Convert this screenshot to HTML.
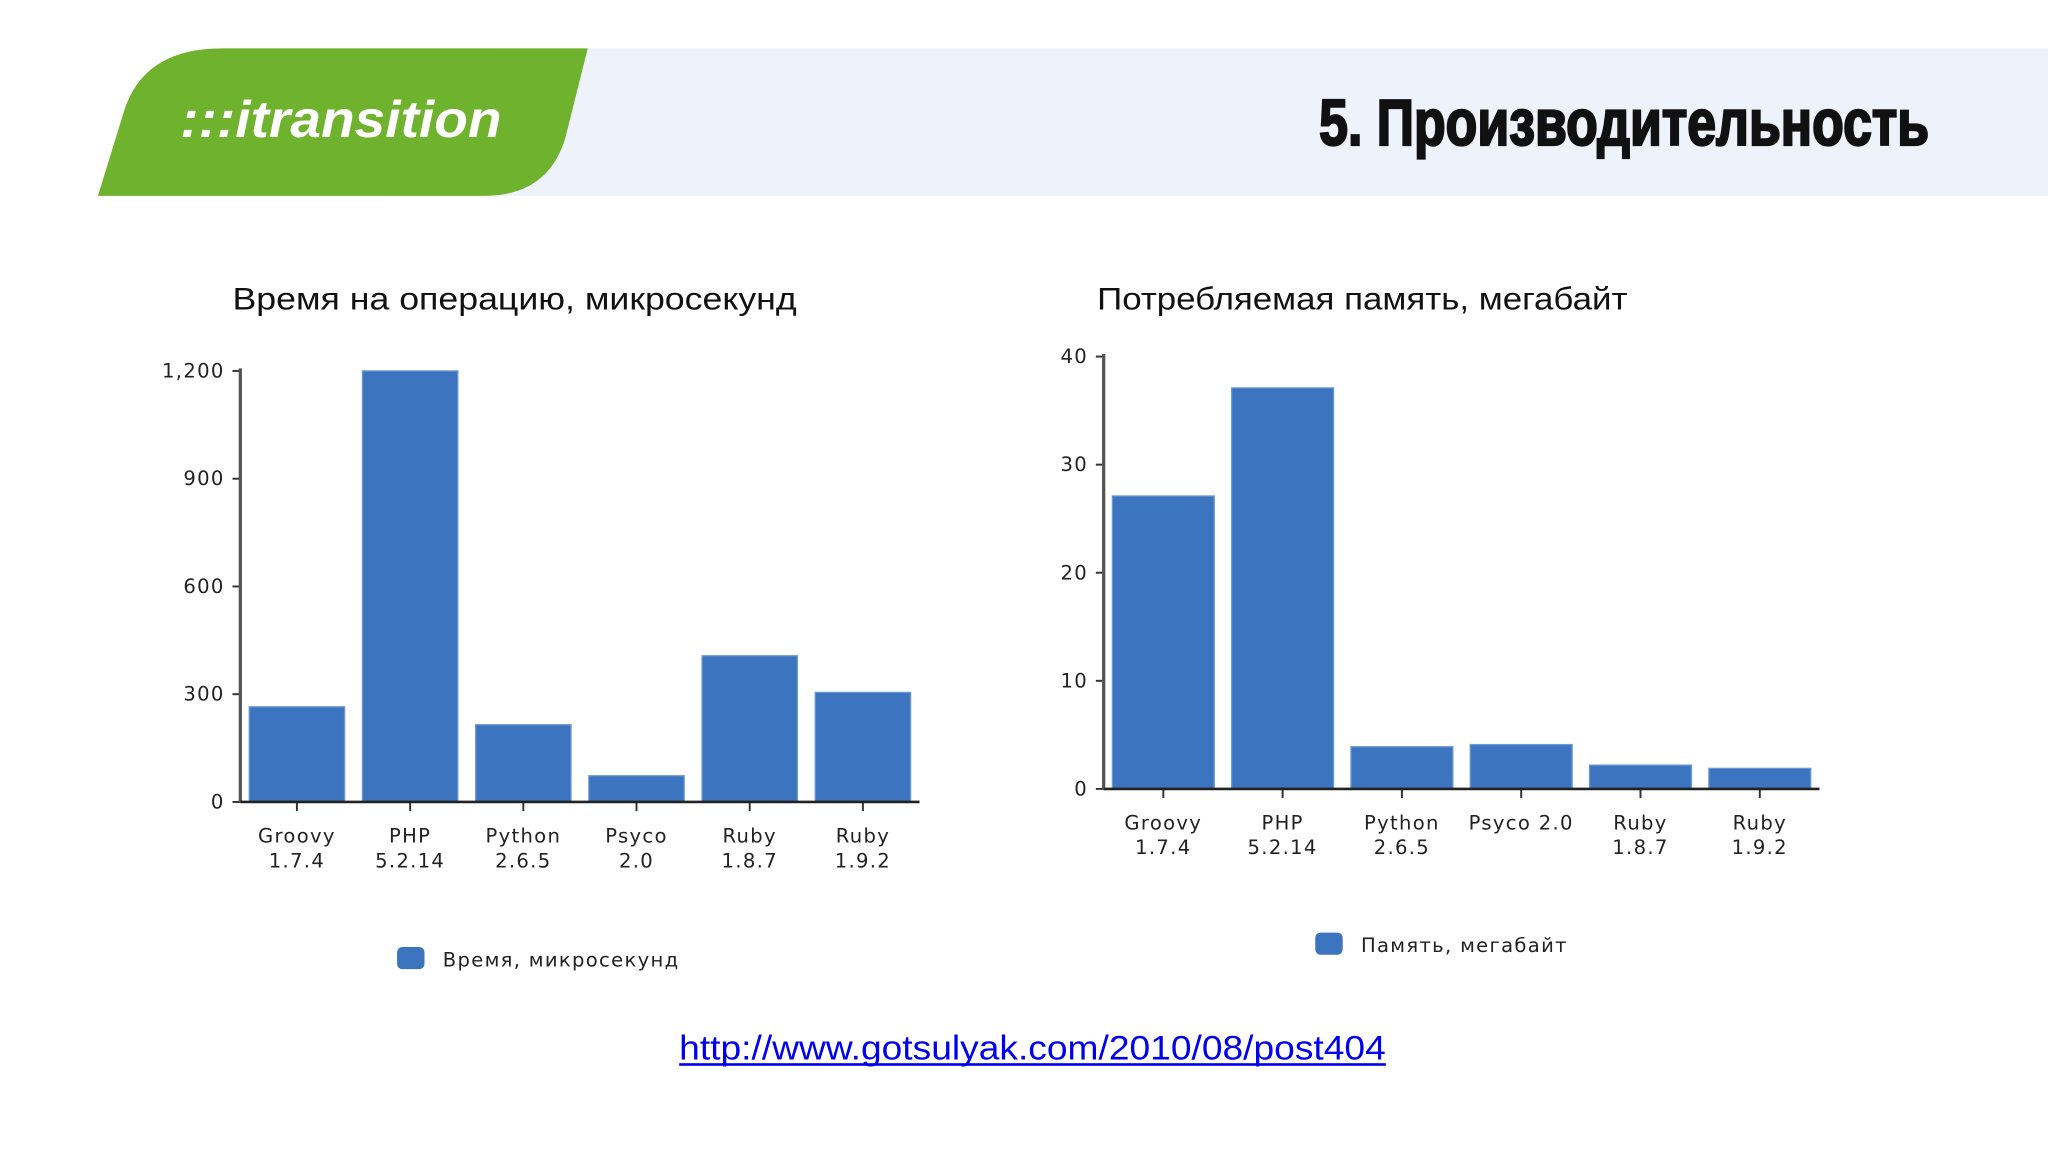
<!DOCTYPE html>
<html><head><meta charset="utf-8"><style>
html,body{margin:0;padding:0;background:#fff;}
svg{display:block;}
</style></head><body>
<svg id="s" width="2048" height="1152" viewBox="0 0 1568 882" xmlns="http://www.w3.org/2000/svg" font-family="'DejaVu Sans', sans-serif">
<rect x="0" y="0" width="1568" height="882" fill="#fff"/>
<rect x="380" y="37" width="1188" height="113" fill="#eef3fb"/>
<path d="M75 150 L95 85 Q110 37 170 37 L450 37 L433 105 Q420 150 370 150 Z" fill="#6fb22e"/>
<text x="138" y="105" font-family="'Liberation Sans',sans-serif" font-style="italic" font-weight="bold" font-size="40" fill="#fff" textLength="246" lengthAdjust="spacingAndGlyphs">:::itransition</text>
<text x="1010" y="111" font-family="'Liberation Sans Narrow','Liberation Sans',sans-serif" font-weight="bold" font-size="50" fill="#111" stroke="#111" stroke-width="1.8" textLength="467" lengthAdjust="spacingAndGlyphs">5. Производительность</text>
<text x="178" y="237" font-family="'Liberation Sans',sans-serif" font-size="24" fill="#111" textLength="432" lengthAdjust="spacingAndGlyphs">Время на операцию, микросекунд</text>
<text x="840" y="237" font-family="'Liberation Sans',sans-serif" font-size="24" fill="#111" textLength="406" lengthAdjust="spacingAndGlyphs">Потребляемая память, мегабайт</text>
<g id="c1"></g><g id="c2"></g>
<text x="520" y="811" font-family="'Liberation Sans',sans-serif" font-size="26" fill="#0000ee" textLength="541" lengthAdjust="spacingAndGlyphs">http://www.gotsulyak.com/2010/08/post404</text>
<rect x="520" y="814" width="541" height="2" fill="#0000ee"/>
</svg>
<script>
const categories1=["Groovy|1.7.4","PHP|5.2.14","Python|2.6.5","Psyco|2.0","Ruby|1.8.7","Ruby|1.9.2"];
const timeValues=[265,1200,215,73,407,305];
const timeTicks=[0,300,600,900,1200];
const timeTickLabels=["0","300","600","900","1,200"];
const categories2=["Groovy|1.7.4","PHP|5.2.14","Python|2.6.5","Psyco 2.0","Ruby|1.8.7","Ruby|1.9.2"];
const memValues=[27.1,37.1,3.9,4.1,2.2,1.9];
const memTicks=[0,10,20,30,40];
const NS="http://www.w3.org/2000/svg";
function mk(p,t,a){const e=document.createElementNS(NS,t);for(const k in a)e.setAttribute(k,a[k]);p.appendChild(e);return e;}
function chart(gid,cfg,cats,vals,ticks,labels,legendText){
  const g=document.getElementById(gid);
  const y=v=>cfg.y0-(v/cfg.max)*(cfg.y0-cfg.yTop);
  const cw=(cfg.x1-cfg.x0)/cats.length;
  ticks.forEach((t,i)=>{
    const tk=mk(g,'line',{x1:cfg.x0-6,x2:cfg.x0,y1:y(t),y2:y(t),stroke:'#333','stroke-width':1.5});
    
    
    const tl=mk(g,'text',{x:cfg.x0-12,y:y(t)+5,'text-anchor':'end','font-size':15,'letter-spacing':1,fill:'#222'});
    tl.textContent=labels[i];
    
    
  });
  vals.forEach((v,i)=>{
    const cx=cfg.x0+cw*(i+0.5);
    const b=mk(g,'rect',{x:cx-cfg.bw/2,y:y(v),width:cfg.bw,height:cfg.y0-y(v),fill:'#3c74c0',stroke:'#6a96d4','stroke-width':1});
    
    
    mk(g,'line',{x1:cx,x2:cx,y1:cfg.y0,y2:cfg.y0+7,stroke:'#333','stroke-width':1.5});
    cats[i].split('|').forEach((ln,j)=>{
      const t=mk(g,'text',{x:cx,y:cfg.y0+31+j*19,'text-anchor':'middle','font-size':15,'letter-spacing':1,fill:'#222'});
      t.textContent=ln;
      
      
    });
  });
  const ya=mk(g,'line',{x1:cfg.x0,x2:cfg.x0,y1:cfg.yTop-2,y2:cfg.y0,stroke:'#555','stroke-width':2.5});
  
  
  const xa=mk(g,'line',{x1:cfg.x0,x2:cfg.x1,y1:cfg.y0,y2:cfg.y0,stroke:'#222','stroke-width':2});
  
  
  const lr=mk(g,'rect',{x:cfg.lx,y:cfg.ly-9,width:21,height:17,rx:4,fill:'#3c74c0'});
  
  
  const lt=mk(g,'text',{x:cfg.lx+35,y:cfg.ly+6,'font-size':15,'letter-spacing':1,fill:'#222'});
  lt.textContent=legendText;
  
  
}
chart('c1',{x0:184,x1:704,y0:614,yTop:284,max:1200,bw:73,lx:304,ly:734},categories1,timeValues,timeTicks,timeTickLabels,'Время, микросекунд');
chart('c2',{x0:845,x1:1393,y0:604,yTop:273,max:40,bw:78,lx:1007,ly:723},categories2,memValues,memTicks,memTicks.map(String),'Память, мегабайт');
</script>
</body></html>
